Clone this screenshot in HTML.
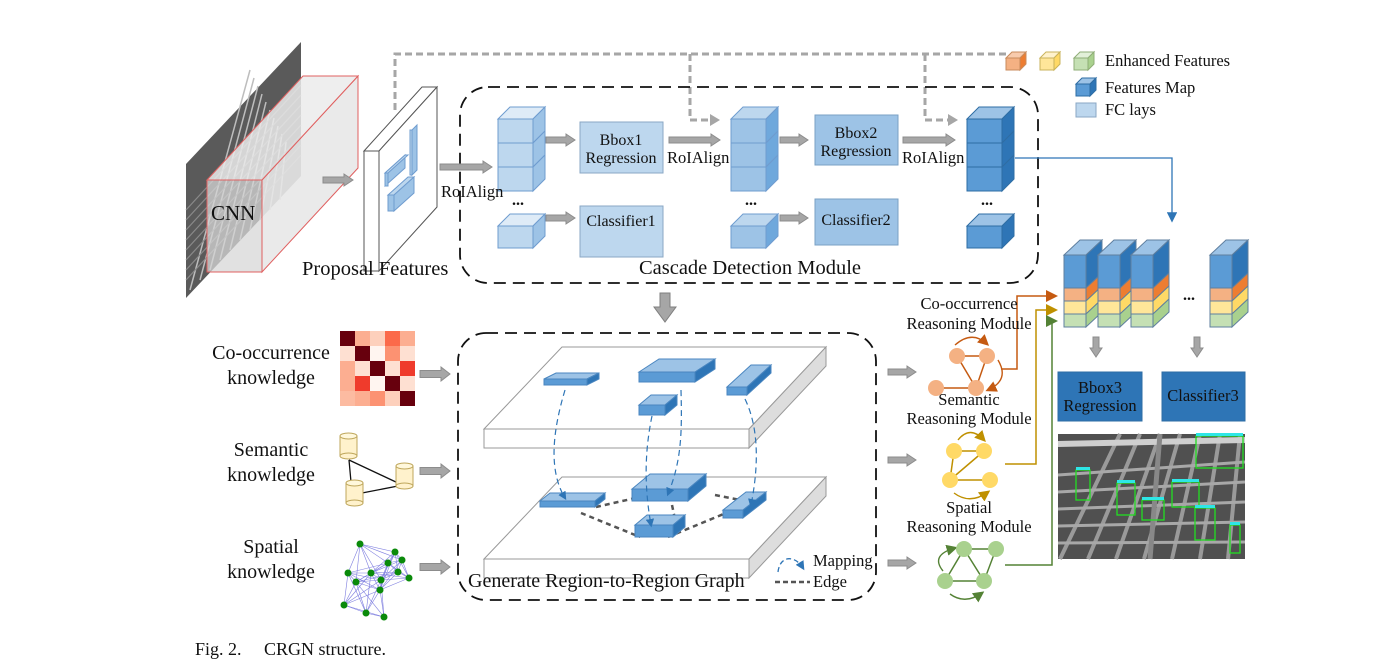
<!DOCTYPE html>
<html><head><meta charset="utf-8"><style>
body{margin:0;background:#fff}
svg{display:block}
text{font-family:"Liberation Serif",serif;fill:#111}
</style></head><body>
<svg id="s" width="1393" height="662" viewBox="0 0 1393 662" xmlns="http://www.w3.org/2000/svg">
<defs>
<marker id="ab" markerWidth="8" markerHeight="8" refX="6" refY="4" orient="auto"><path d="M0,0 L8,4 L0,8 z" fill="#2e75b6"/></marker>
<marker id="ao" markerWidth="8" markerHeight="8" refX="6" refY="4" orient="auto"><path d="M0,0 L8,4 L0,8 z" fill="#c55a11"/></marker>
<marker id="ay" markerWidth="8" markerHeight="8" refX="6" refY="4" orient="auto"><path d="M0,0 L8,4 L0,8 z" fill="#bf9000"/></marker>
<marker id="ag" markerWidth="8" markerHeight="8" refX="6" refY="4" orient="auto"><path d="M0,0 L8,4 L0,8 z" fill="#548235"/></marker>
<marker id="am" markerWidth="7" markerHeight="7" refX="5" refY="3.5" orient="auto"><path d="M0,0 L7,3.5 L0,7 z" fill="#2e75b6"/></marker>
</defs>
<g id="g"></g>
<g>
<text x="211" y="220" font-size="21">CNN</text>
<text x="302" y="275" font-size="20.5">Proposal Features</text>
<text x="441" y="197" font-size="16.5">RoIAlign</text>
<text x="621" y="145" font-size="16" text-anchor="middle">Bbox1</text>
<text x="621" y="163" font-size="16" text-anchor="middle">Regression</text>
<text x="621" y="226" font-size="16" text-anchor="middle">Classifier1</text>
<text x="667" y="163" font-size="16.5">RoIAlign</text>
<text x="856" y="138" font-size="16" text-anchor="middle">Bbox2</text>
<text x="856" y="156" font-size="16" text-anchor="middle">Regression</text>
<text x="856" y="225" font-size="16" text-anchor="middle">Classifier2</text>
<text x="902" y="163" font-size="16.5">RoIAlign</text>
<text x="512" y="205" font-size="16" font-weight="bold">...</text>
<text x="745" y="205" font-size="16" font-weight="bold">...</text>
<text x="981" y="205" font-size="16" font-weight="bold">...</text>
<text x="750" y="274" font-size="20.5" text-anchor="middle">Cascade Detection Module</text>
<text x="1105" y="66" font-size="16.5">Enhanced Features</text>
<text x="1105" y="93" font-size="16.5">Features Map</text>
<text x="1105" y="115" font-size="16.5">FC lays</text>
<text x="271" y="359" font-size="20" text-anchor="middle">Co-occurrence</text>
<text x="271" y="384" font-size="20" text-anchor="middle">knowledge</text>
<text x="271" y="456" font-size="20" text-anchor="middle">Semantic</text>
<text x="271" y="481" font-size="20" text-anchor="middle">knowledge</text>
<text x="271" y="553" font-size="20" text-anchor="middle">Spatial</text>
<text x="271" y="578" font-size="20" text-anchor="middle">knowledge</text>
<text x="468" y="587" font-size="20">Generate Region-to-Region Graph</text>
<text x="813" y="566" font-size="16.5">Mapping</text>
<text x="813" y="587" font-size="16.5">Edge</text>
<text x="969" y="309" font-size="16.5" text-anchor="middle">Co-occurrence</text>
<text x="969" y="329" font-size="16.5" text-anchor="middle">Reasoning Module</text>
<text x="969" y="405" font-size="16.5" text-anchor="middle">Semantic</text>
<text x="969" y="424" font-size="16.5" text-anchor="middle">Reasoning Module</text>
<text x="969" y="513" font-size="16.5" text-anchor="middle">Spatial</text>
<text x="969" y="532" font-size="16.5" text-anchor="middle">Reasoning Module</text>
<text x="1100" y="393" font-size="16.5" text-anchor="middle">Bbox3</text>
<text x="1100" y="411" font-size="16.5" text-anchor="middle">Regression</text>
<text x="1203" y="401" font-size="16.5" text-anchor="middle">Classifier3</text>
<text x="1183" y="300" font-size="16" font-weight="bold">...</text>
<text x="195" y="655" font-size="18">Fig. 2. <tspan dx="18">CRGN structure.</tspan></text>
</g>
</svg>
<script>
var g=document.getElementById('g'),h='';
function P(pts,f,s,sw){h+='<polygon points="'+pts.map(p=>p.join(',')).join(' ')+'" fill="'+f+'" stroke="'+(s||'none')+'" stroke-width="'+(sw||1)+'"/>';}
function R(x,y,w,hh,f,s,extra){h+='<rect x="'+x+'" y="'+y+'" width="'+w+'" height="'+hh+'" fill="'+f+'" stroke="'+(s||'none')+'" '+(extra||'')+'/>';}
function L(d,s,sw,extra){h+='<path d="'+d+'" fill="none" stroke="'+s+'" stroke-width="'+(sw||1)+'" '+(extra||'')+'/>';}
function cube(x,y,w,hh,dx,dy,fr,tp,sd,st){st=st||'#6f9ccf';
 P([[x,y],[x+dx,y-dy],[x+w+dx,y-dy],[x+w,y]],tp,st);
 P([[x+w,y],[x+w+dx,y-dy],[x+w+dx,y+hh-dy],[x+w,y+hh]],sd,st);
 R(x,y,w,hh,fr,st);}
// banded cube: bands = [[height,front,side],...], top color
function bcube(x,y,w,dx,dy,top,bands,st){
 var tot=0;bands.forEach(b=>tot+=b[0]);
 P([[x,y],[x+dx,y-dy],[x+w+dx,y-dy],[x+w,y]],top,st);
 var yy=y;bands.forEach(function(b){
  P([[x+w,yy],[x+w+dx,yy-dy],[x+w+dx,yy+b[0]-dy],[x+w,yy+b[0]]],b[2],st);
  R(x,yy,w,b[0],b[1],st);yy+=b[0];});}
function garrow(x1,y,x2,t){t=t||5;var hl=9;P([[x1,y-t/2],[x2-hl,y-t/2],[x2-hl,y-t],[x2,y],[x2-hl,y+t],[x2-hl,y+t/2],[x1,y+t/2]],'#a6a6a6','#8c8c8c');}
function garrowD(x,y1,y2,t){t=t||6;var hl=9;P([[x-t/2,y1],[x+t/2,y1],[x+t/2,y2-hl],[x+t,y2-hl],[x,y2],[x-t,y2-hl],[x-t/2,y2-hl]],'#a6a6a6','#8c8c8c');}
var LB=['#bdd7ee','#deebf7','#9dc3e6'],MB=['#9dc3e6','#bdd7ee','#6fa8dc'],DB=['#5b9bd5','#9dc3e6','#2e75b6'];
// CNN image
P([[186,164],[301,42],[301,176],[186,298]],'#5a5a5a');
for(var i=0;i<10;i++){L('M'+(190+i*10)+','+(290-i*10)+' L'+(250+i*4)+','+(70+i*8),'#bdbdbd',1.5);}
for(var i=0;i<8;i++){L('M186,'+(210+i*10)+' L301,'+(85+i*10),'#8a8a8a',1.2);}
P([[262,180],[358,76],[358,168],[262,272]],'rgba(232,232,232,0.9)','#e06060');
P([[207,180],[303,76],[358,76],[262,180]],'rgba(235,235,235,0.85)','#e06060');
R(207,180,55,92,'rgba(215,215,215,0.75)','#e06060');
garrow(323,180,353,6);
// proposal slab
P([[364,151],[422,87],[437,87],[379,151]],'#fff','#555');
P([[379,151],[437,87],[437,207],[379,271]],'#fff','#555');
R(364,151,15,120,'#fff','#555');
P([[385,173],[405,155],[405,168],[385,186]],'#9dc3e6','#6f9ccf');
P([[385,173],[405,155],[408,155],[388,173]],'#bdd7ee','#6f9ccf');R(385,173,3,13,'#9dc3e6','#6f9ccf');
P([[412,130],[417,125],[417,170],[412,175]],'#9dc3e6','#6f9ccf');R(410,130,2,45,'#bdd7ee','#6f9ccf');
P([[388,195],[408,177],[414,177],[394,195]],'#bdd7ee','#6f9ccf');
P([[394,195],[414,177],[414,193],[394,211]],'#9dc3e6','#6f9ccf');R(388,195,6,16,'#9dc3e6','#6f9ccf');
// dashed grey route
L('M395,110 V54 H1010 M690,54 V120 H712 M925,54 V120 H950','#a6a6a6',3,'stroke-dasharray="7,4"');
P([[710,114],[720,120],[710,126]],'#a6a6a6');P([[948,114],[958,120],[948,126]],'#a6a6a6');
// cascade box
R(460,87,578,196,'none','#111','rx="28" stroke-width="1.8" stroke-dasharray="12,7"');
garrow(440,167,492,6);
function stack3(x,c,st){bcube(x,119,35,12,12,c[1],[[24,c[0],c[2]],[24,c[0],c[2]],[24,c[0],c[2]]],st);}
stack3(498,LB,'#6f9ccf');cube(498,226,35,22,12,12,LB[0],LB[1],LB[2]);
stack3(731,MB,'#6f9ccf');cube(731,226,35,22,12,12,MB[0],MB[1],MB[2]);
stack3(967,DB,'#2e6da4');cube(967,226,35,22,12,12,DB[0],DB[1],DB[2],'#2e6da4');
R(580,122,83,51,'#bdd7ee','#8aa7c4');R(580,206,83,51,'#bdd7ee','#8aa7c4');
R(815,115,83,50,'#9dc3e6','#7aa0c4');R(815,199,83,46,'#9dc3e6','#7aa0c4');
garrow(546,140,575,6);garrow(546,218,575,6);garrow(669,140,720,6);garrow(780,140,808,6);garrow(780,218,808,6);garrow(903,140,955,6);
// blue line
L('M1015,158 H1172 V220','#2e75b6',1.3,'marker-end="url(#ab)"');
// legend
cube(1006,58,14,12,6,6,'#f4b183','#f8cbad','#ed7d31','#c98b5c');
cube(1040,58,14,12,6,6,'#ffe699','#fff2cc','#ffd966','#c9b35c');
cube(1074,58,14,12,6,6,'#c5e0b4','#e2f0d9','#a9d18e','#8fae77');
cube(1076,84,14,12,6,6,DB[0],DB[1],DB[2],'#2e6da4');
R(1076,103,20,14,'#bdd7ee','#8aa7c4');
// down arrow
P([[660,293],[670,293],[670,307],[676,307],[665,322],[654,307],[660,307]],'#a6a6a6','#7f7f7f');
// enhanced stacks
[1064,1098,1131,1210].forEach(function(x){
 bcube(x,255,22,16,15,'#9dc3e6',[[33,'#5b9bd5','#2e75b6'],[13,'#f4b183','#ed7d31'],[13,'#ffe699','#ffd966'],[13,'#c5e0b4','#a9d18e']],'#5f7f9f');
});
garrowD(1096,337,357,6);garrowD(1197,337,357,6);
R(1058,372,84,49,'#2e75b6','#2e6da4');R(1162,372,83,49,'#2e75b6','#2e6da4');
// photo
R(1058,434,187,125,'#505050');
for(var i=0;i<7;i++){L('M'+(1060+i*28)+',559 L'+(1120+i*20)+',434','#9a9a9a',4);}
for(var i=0;i<5;i++){L('M1058,'+(475+i*17)+' L1245,'+(462+i*20),'#a8a8a8',3);}
L('M1058,444 L1245,440','#cfcfcf',6);
L('M1160,434 L1150,559','#888',5);
[[1076,470,14,30],[1117,483,18,32],[1142,500,22,20],[1172,482,27,25],[1195,508,20,32],[1230,525,10,28],[1196,436,47,32]].forEach(function(b){R(b[0],b[1],b[2],b[3],'none','#22dd22','stroke-width="1.3"');R(b[0],b[1]-3,b[2],3,'#2ee6e6');});
// bottom dashed box
R(458,333,418,267,'none','#111','rx="28" stroke-width="1.8" stroke-dasharray="12,7"');
function slab(y){P([[484,y],[562,y-82],[826,y-82],[749,y]],'#fff','#999');P([[749,y],[826,y-82],[826,y-63],[749,y+19]],'#ddd','#999');R(484,y,265,19,'#fff','#999');}
slab(429);slab(559);
function blk(x,y,w,hh,dx,dy){cube(x,y,w,hh,dx,dy,'#5b9bd5','#9dc3e6','#2e75b6','#4a86c0');}
blk(544,379,43,6,12,6);blk(639,372,56,10,20,13);blk(639,405,26,10,12,10);blk(727,387,20,8,24,22);
L('M596,507 L640,497 M581,513 L640,537 M672,505 L676,524 M715,495 L740,500 M668,537 L726,513','#555',2.5,'stroke-dasharray="5,4"');
blk(540,501,55,6,10,8);blk(632,489,56,12,18,15);blk(635,525,38,12,12,10);blk(723,510,20,8,23,18);
L('M565,390 C553,430 548,470 565,498','#2e75b6',1.2,'stroke-dasharray="6,4" marker-end="url(#am)"');
L('M652,416 C646,445 643,480 651,525','#2e75b6',1.2,'stroke-dasharray="6,4" marker-end="url(#am)"');
L('M681,390 C682,430 682,460 668,494','#2e75b6',1.2,'stroke-dasharray="6,4" marker-end="url(#am)"');
L('M745,399 C760,430 758,470 751,505','#2e75b6',1.2,'stroke-dasharray="6,4" marker-end="url(#am)"');
L('M778,572 C780,555 795,555 803,568','#2e75b6',1.3,'stroke-dasharray="5,3" marker-end="url(#am)"');
L('M775,582 H810','#555',2.5,'stroke-dasharray="5,3"');
// knowledge
var hm=[['#67000d','#fcae91','#fdd0bc','#fb6a4a','#fcae91'],['#fee0d2','#67000d','#fff5f0','#fc9272','#fee0d2'],['#fcae91','#fee0d2','#67000d','#fee0d2','#ef3b2c'],['#fcae91','#ef3b2c','#fff5f0','#67000d','#fee0d2'],['#fcbba1','#fcae91','#fc9272','#fdd0bc','#67000d']];
for(var r=0;r<5;r++)for(var c=0;c<5;c++)R(340+c*15,331+r*15,15,15,hm[r][c]);
garrow(420,374,450,7);garrow(420,471,450,7);garrow(420,567,450,7);
L('M349,460 L351,482 M349,460 L398,483 M362,493 L398,486','#111',1.3);
function cyl(x,y){R(x,y,17,20,'#fff2cc','#bfa75c');h+='<ellipse cx="'+(x+8.5)+'" cy="'+y+'" rx="8.5" ry="3" fill="#fff8dc" stroke="#bfa75c"/>';h+='<ellipse cx="'+(x+8.5)+'" cy="'+(y+20)+'" rx="8.5" ry="3" fill="#fff2cc" stroke="#bfa75c"/>';}
cyl(340,436);cyl(346,483);cyl(396,466);
var sp=[[360,544],[348,573],[371,573],[388,563],[398,572],[381,580],[380,590],[356,582],[409,578],[395,552],[402,560],[344,605],[366,613],[384,617]];
for(var i=0;i<sp.length;i++)for(var j=i+1;j<sp.length;j++){var a=sp[i],b=sp[j];if(Math.hypot(a[0]-b[0],a[1]-b[1])<45)L('M'+a+' L'+b,'#8080e0',0.6);}
sp.forEach(function(p){h+='<circle cx="'+p[0]+'" cy="'+p[1]+'" r="3.5" fill="#0a8a0a"/>';});
garrow(888,372,916,6);garrow(888,460,916,6);garrow(888,563,916,6);
function gr(n,ed,fill,st,arcs,mk){ed.forEach(function(e){L('M'+n[e[0]]+' L'+n[e[1]],st,1.5);});
 arcs.forEach(function(a){L(a,st,1.4,'marker-end="url(#'+mk+')"');});
 n.forEach(function(p){h+='<circle cx="'+p[0]+'" cy="'+p[1]+'" r="8" fill="'+fill+'"/>';});}
gr([[957,356],[987,356],[936,388],[976,388]],[[0,1],[0,3],[1,3],[2,3]],'#f4b183','#c55a11',['M955,345 Q972,330 987,344','M998,360 Q1010,380 988,390'],'ao');
gr([[954,451],[984,451],[950,480],[990,480]],[[0,1],[1,2],[2,3],[0,2]],'#ffd966','#bf9000',['M958,440 Q970,425 984,440','M954,493 Q970,505 988,492'],'ay');
gr([[964,549],[996,549],[945,581],[984,581]],[[0,1],[1,3],[2,3],[0,2],[0,3]],'#a9d18e','#548235',['M943,571 Q930,555 955,548','M950,594 Q965,605 982,593'],'ag');
L('M1001,369 H1017 V296 H1055','#c55a11',1.5,'marker-end="url(#ao)"');
L('M1005,464 H1036 V310 H1055','#bf9000',1.5,'marker-end="url(#ay)"');
L('M1005,565 H1052 V321 H1055','#548235',1.5,'marker-end="url(#ag)"');
g.innerHTML=h;
</script>
</body></html>
